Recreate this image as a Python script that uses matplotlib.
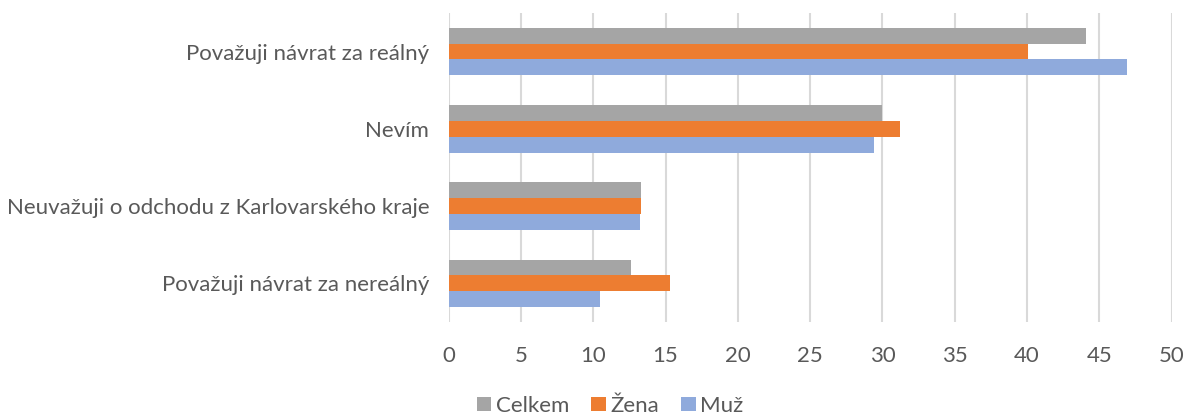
import matplotlib
matplotlib.use("Agg")
import matplotlib.pyplot as plt
import numpy as np

categories = [
    "Považuji návrat za reálný",
    "Nevím",
    "Neuvažuji o odchodu z Karlovarského kraje",
    "Považuji návrat za nereálný",
]
series_names = ["Celkem", "Žena", "Muž"]
celkem = [44.1, 30.0, 13.3, 12.6]
zena = [40.1, 31.2, 13.3, 15.3]
muz = [46.9, 29.4, 13.2, 10.5]
x_ticks = [0, 5, 10, 15, 20, 25, 30, 35, 40, 45, 50]

colors = ["#A5A5A5", "#ED7D31", "#8FAADC"]
text_col = "#595959"

plt.rcParams["font.family"] = ["Lato", "DejaVu Sans"]

fig = plt.figure(figsize=(11.87, 4.17), dpi=100)
ax = fig.add_axes([0.378, 0.228, 0.609, 0.741])

y = np.arange(len(categories))
h = 0.205
for k, (name, vals, c) in enumerate(zip(series_names, [celkem, zena, muz], colors)):
    ax.barh(y + (k - 1) * h, vals, height=h, color=c, label=name, zorder=3)

ax.set_xlim(0, 50)
ax.set_ylim(len(categories) - 0.5, -0.5)
ax.set_xticks(x_ticks)
ax.set_yticks(y)
ax.set_yticklabels(categories)
ax.tick_params(axis="both", length=0, labelsize=16, colors=text_col)
ax.tick_params(axis="x", pad=17)
ax.tick_params(axis="y", pad=14)
ax.grid(axis="x", color="#D9D9D9", linewidth=1.5, zorder=0)
for s in ax.spines.values():
    s.set_visible(False)

fig.legend(loc="lower center", bbox_to_anchor=(0.514, -0.045), ncol=3,
           frameon=False, fontsize=16, handlelength=0.65, handleheight=0.65,
           handletextpad=0.2, columnspacing=1.0, labelcolor=text_col)

fig.savefig("out.png", dpi=100)
